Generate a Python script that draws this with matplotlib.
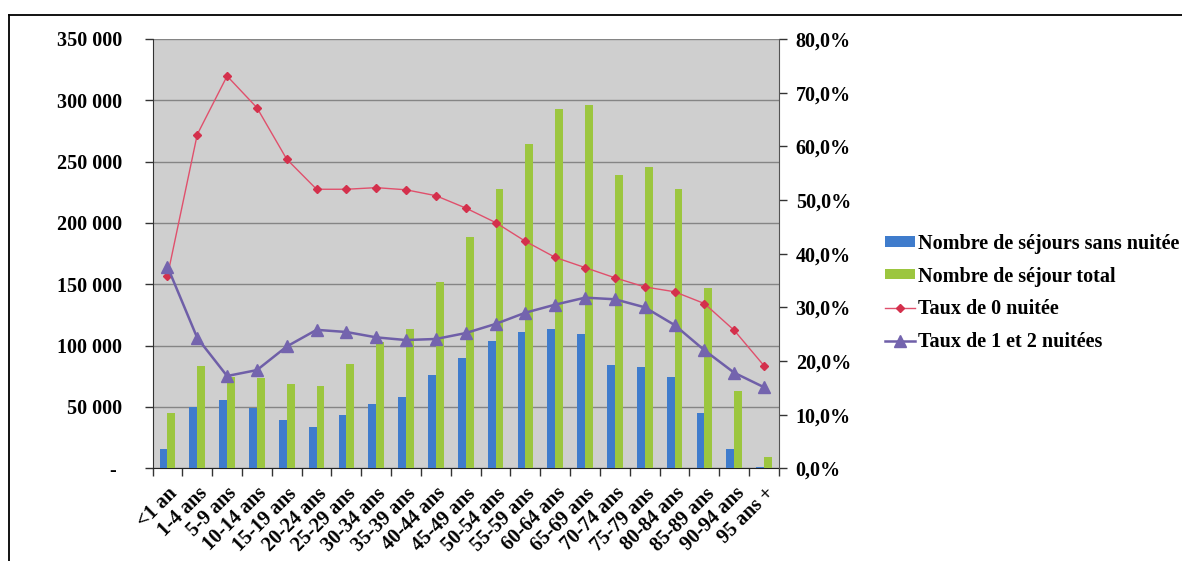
import numpy as np
import matplotlib
matplotlib.use("Agg")
import matplotlib.pyplot as plt
from matplotlib.lines import Line2D
from matplotlib.ticker import FuncFormatter

# Age groups
categories = ["<1 an", "1-4 ans", "5-9 ans", "10-14 ans", "15-19 ans", "20-24 ans",
              "25-29 ans", "30-34 ans", "35-39 ans", "40-44 ans", "45-49 ans",
              "50-54 ans", "55-59 ans", "60-64 ans", "65-69 ans", "70-74 ans",
              "75-79 ans", "80-84 ans", "85-89 ans", "90-94 ans", "95 ans +"]

# Stay counts (left axis)
sejours_sans_nuitee = [16000, 50000, 56000, 49000, 39000, 34000, 43500, 52500, 58200,
                       75700, 90100, 103500, 111400, 113300, 109200, 83900, 82500,
                       74300, 45000, 15800, 1000]
sejours_total = [45200, 83100, 74300, 73800, 68400, 66700, 85000, 103000, 113300,
                 152000, 188700, 227700, 264400, 293000, 296300, 239100, 245300,
                 227700, 147300, 62900, 9000]

# Rates in % (right axis)
taux_0_nuitee = [35.8, 62.2, 73.1, 67.2, 57.6, 52.0, 52.0, 52.3, 51.9, 50.8, 48.5,
                 45.8, 42.3, 39.3, 37.4, 35.5, 33.8, 32.9, 30.7, 25.7, 19.1]
taux_1_2_nuitees = [37.6, 24.3, 17.2, 18.3, 22.7, 25.8, 25.4, 24.4, 23.9, 24.1, 25.2,
                    26.9, 29.0, 30.5, 31.8, 31.5, 30.0, 26.7, 22.0, 17.8, 15.1]

FONT = "Liberation Serif"
FS = 14.5
plt.rcParams["font.family"] = [FONT, "DejaVu Serif"]
plt.rcParams["font.weight"] = "bold"

W, H = 1182, 561
fig = plt.figure(figsize=(W / 100, H / 100), dpi=100)
fig.patch.set_facecolor("white")

left, right, bottom, top = 152.5 / W, 779 / W, 1 - 468.3 / H, 1 - 39 / H
ax = fig.add_axes([left, bottom, right - left, top - bottom])
ax.set_facecolor("#cfcfcf")

x = np.arange(len(categories))
bw = 0.26
ax.bar(x - 0.13, sejours_sans_nuitee, width=bw, color="#3f7ccc", zorder=3,
       label="Nombre de séjours sans nuitée")
ax.bar(x + 0.13, sejours_total, width=bw, color="#9cc63f", zorder=3,
       label="Nombre de séjour total")

ax.set_xlim(-0.5, len(categories) - 0.5)
ax.set_ylim(0, 350000)
ax.set_yticks(np.arange(0, 350001, 50000))
ax.yaxis.set_major_formatter(FuncFormatter(
    lambda v, p: "- " if v == 0 else f"{v:,.0f}".replace(",", " ")))
ax.grid(axis="y", color="#858585", linewidth=1.0, zorder=1)
ax.set_axisbelow(True)

ax.set_xticks(np.arange(len(categories) + 1) - 0.5)
ax.set_xticklabels([])
ax.set_xticks(x, minor=True)
ax.set_xticklabels(categories, minor=True, rotation=45, ha="right",
                   rotation_mode="anchor", fontsize=FS, fontweight="bold")
ax.tick_params(axis="x", which="major", length=6, width=1, color="#333333")
ax.tick_params(axis="x", which="minor", length=0, pad=11)
ax.tick_params(axis="y", length=6, width=1, color="#333333", pad=16,
               labelsize=FS)

ax.spines["top"].set_visible(False)
ax.spines["left"].set_color("#333333")
ax.spines["bottom"].set_color("#222222")
ax.spines["right"].set_visible(False)

ax2 = ax.twinx()
ax2.set_ylim(0, 80)
ax2.set_yticks(np.arange(0, 80.1, 10))
ax2.yaxis.set_major_formatter(FuncFormatter(
    lambda v, p: f"{v:.1f}%".replace(".", ",")))
ax2.tick_params(axis="y", length=6, width=1, color="#333333", pad=6,
                labelsize=FS)
for s in ["top", "left", "bottom"]:
    ax2.spines[s].set_visible(False)
ax2.spines["right"].set_color("#555555")

ax2.plot(x, taux_0_nuitee, color="#e0506c", linewidth=1.0, marker="D",
         markersize=4.5, markerfacecolor="#d4304c", markeredgecolor="#d4304c",
         label="Taux de 0 nuitée", zorder=5)
ax2.plot(x, taux_1_2_nuitees, color="#6f5fa8", linewidth=1.8, marker="^",
         markersize=8, markerfacecolor="#7464ae", markeredgecolor="#7464ae",
         label="Taux de 1 et 2 nuitées", zorder=6)

h1, l1 = ax.get_legend_handles_labels()
h2, l2 = ax2.get_legend_handles_labels()
fig.legend(h1 + h2, l1 + l2, loc="center left",
           bbox_to_anchor=(885 / W, 1 - 293 / H), frameon=False,
           prop={"family": FONT, "weight": "bold", "size": FS},
           handlelength=1.5, handleheight=0.4, handletextpad=0.15,
           labelspacing=0.64, borderaxespad=0, borderpad=0)

# Outer frame (left and top edges)
fig.add_artist(Line2D([8.7 / W, 8.7 / W], [0, 1 - 14.7 / H], transform=fig.transFigure,
                      color="black", linewidth=1.3))
fig.add_artist(Line2D([8.7 / W, 1], [1 - 14.7 / H, 1 - 14.7 / H], transform=fig.transFigure,
                      color="black", linewidth=1.3))

fig.savefig("out.png", dpi=100)
